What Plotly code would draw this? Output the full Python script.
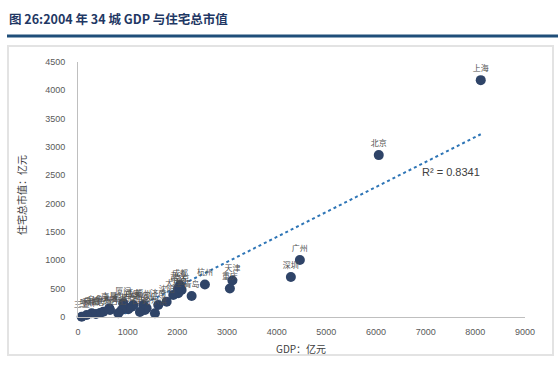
import numpy as np
import plotly.graph_objects as go

# ---- data ----
cities = ["上海", "北京", "广州", "深圳", "天津", "重庆", "杭州", "青岛", "成都", "南京",
          "宁波", "武汉", "大连", "沈阳", "济南", "哈尔滨", "石家庄", "福州", "长沙", "西安",
          "郑州", "长春", "厦门", "昆明", "合肥", "太原", "南昌", "乌鲁木齐", "南宁", "呼和浩特",
          "贵阳", "兰州", "西宁", "三亚"]
gdp = [8109, 6056, 4467, 4286, 3109, 3058, 2555, 2288, 2052, 2086,
       2018, 2018, 1918, 1785, 1616, 1549, 1382, 1314, 1348, 1113,
       1080, 1012, 911, 879, 811, 644, 630, 509, 443, 362,
       276, 175, 1247, 74]
housing_value = [4180, 2857, 1005, 705, 644, 503, 573, 370, 564, 476,
                 418, 506, 388, 270, 212, 65, 153, 212, 123, 212,
                 182, 136, 242, 123, 65, 123, 153, 93, 70, 53,
                 65, 35, 88, 5]
x_ticks = [0, 1000, 2000, 3000, 4000, 5000, 6000, 7000, 8000, 9000]
y_ticks = [0, 500, 1000, 1500, 2000, 2500, 3000, 3500, 4000, 4500]
r2_text = "R² = 0.8341"

# ---- layout geometry (pixels) ----
W, H = 558, 365
L, R, T, B = 78, 525, 62, 317   # plot area in pixels


def px(x):
    return (x - L) / (R - L)


def py(y):
    return (B - y) / (B - T)


# linear trendline fitted through the data
slope, intercept = np.polyfit(gdp, housing_value, 1)
tx = np.array([min(gdp), max(gdp)])
ty = slope * tx + intercept

fig = go.Figure()
fig.add_trace(go.Scatter(
    x=tx, y=ty, mode="lines",
    line=dict(color="#2E75B6", width=2, dash="dot"),
    showlegend=False, hoverinfo="skip"))
fig.add_trace(go.Scatter(
    x=gdp, y=housing_value, mode="markers+text", text=cities,
    textposition="top center",
    textfont=dict(family="Noto Sans CJK SC", size=8, color="#505050"),
    marker=dict(size=10, color="#2F4468"),
    cliponaxis=False, showlegend=False, hoverinfo="skip"))

axis_font = dict(family="Liberation Sans, Arial", size=9, color="#595959")
fig.update_xaxes(range=[0, 9000], tickvals=x_ticks, ticktext=[str(v) for v in x_ticks],
                 showgrid=False, zeroline=False, showline=True, linecolor="#BFBFBF",
                 linewidth=1, ticks="", tickfont=axis_font, ticklabelstandoff=6)
fig.update_yaxes(range=[0, 4500], tickvals=y_ticks, ticktext=[str(v) for v in y_ticks],
                 showgrid=False, zeroline=False, showline=True, linecolor="#BFBFBF",
                 linewidth=1, ticks="", tickfont=axis_font, ticklabelstandoff=10)

shapes = [
    # title rule
    dict(type="line", xref="paper", yref="paper", x0=px(7), x1=px(558), y0=py(36), y1=py(36),
         line=dict(color="#1F4E79", width=3)),
    # frame box
    dict(type="rect", xref="paper", yref="paper", x0=px(8), x1=px(553), y0=py(355), y1=py(46),
         line=dict(color="#E3E3E3", width=2), fillcolor="rgba(0,0,0,0)", layer="below"),
]

annotations = [
    dict(text="<b>图 26:2004 年 34 城 GDP 与住宅总市值</b>", xref="paper", yref="paper",
         x=px(7), y=py(19), xanchor="left", yanchor="middle", showarrow=False,
         font=dict(family="Noto Sans CJK SC", size=12.5, color="#1F3864")),
    dict(text="GDP：亿元", xref="paper", yref="paper", x=px(301), y=py(348),
         xanchor="center", yanchor="middle", showarrow=False,
         font=dict(family="Noto Sans CJK SC", size=10, color="#404040")),
    dict(text="住宅总市值：亿元", xref="paper", yref="paper", x=px(22), y=py(195),
         xanchor="center", yanchor="middle", showarrow=False, textangle=-90,
         font=dict(family="Noto Sans CJK SC", size=10, color="#404040")),
    dict(text=r2_text, x=7505, y=2557, xanchor="center", yanchor="middle", showarrow=False,
         font=dict(family="Liberation Sans, Arial", size=11, color="#404040")),
]

fig.update_layout(
    width=W, height=H, margin=dict(l=L, r=W - R, t=T, b=H - B, autoexpand=False),
    paper_bgcolor="white", plot_bgcolor="white",
    shapes=shapes, annotations=annotations,
)

fig.write_html("out.html", config={"displayModeBar": False},
               post_script="document.body.style.margin='0px';")
